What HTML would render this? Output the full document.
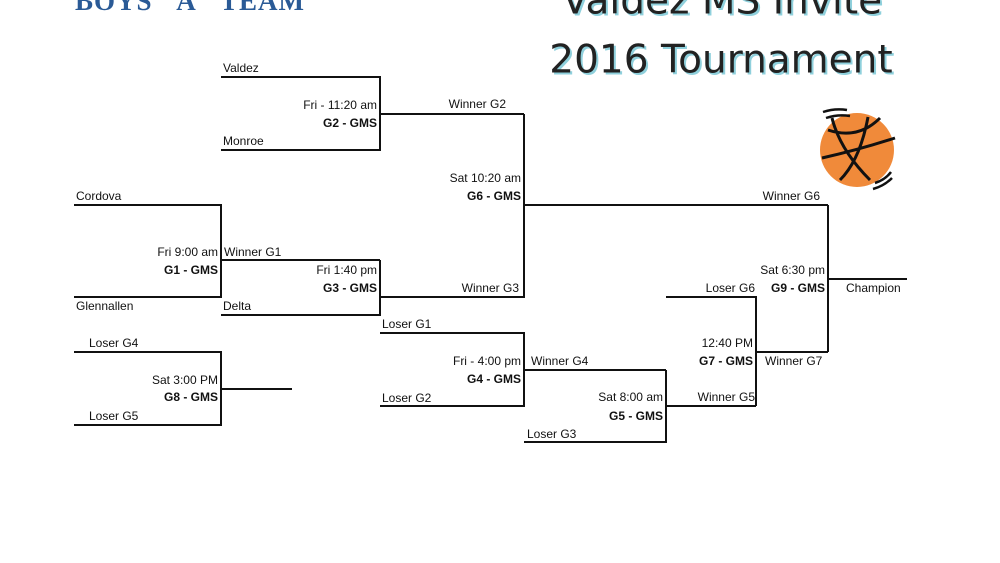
<!DOCTYPE html>
<html><head><meta charset="utf-8"><style>
html,body{margin:0;padding:0;background:#fff;width:1000px;height:563px;overflow:hidden}
svg text{font-family:"Liberation Sans",sans-serif;font-size:12px;fill:#111;dominant-baseline:central}
</style></head><body>
<svg width="1000" height="563" viewBox="0 0 1000 563" xmlns="http://www.w3.org/2000/svg">
<text x="190" y="1" text-anchor="middle" style="font-family:'Liberation Serif',serif;font-size:27px;font-weight:bold;fill:#2a5a96;letter-spacing:1px">BOYS "A"   TEAM</text>
<g style="font-size:39px;font-family:'DejaVu Sans',sans-serif">
<text x="724" y="3" text-anchor="middle" style="font-size:39px;font-family:'DejaVu Sans',sans-serif;fill:#8fd0dc">Valdez MS Invite</text>
<text x="722" y="1" text-anchor="middle" style="font-size:39px;font-family:'DejaVu Sans',sans-serif;fill:#222">Valdez MS Invite</text>
<text x="723" y="62" text-anchor="middle" style="font-size:39px;font-family:'DejaVu Sans',sans-serif;fill:#8fd0dc">2016 Tournament</text>
<text x="721" y="60" text-anchor="middle" style="font-size:39px;font-family:'DejaVu Sans',sans-serif;fill:#222">2016 Tournament</text>
</g>
<g>
<circle cx="857" cy="150" r="37" fill="#f08a3a"/>
<path d="M828 130 Q858 140 880 118 M822 158 Q858 150 895 138 M840 180 Q860 160 868 117 M832 118 Q840 150 870 180" stroke="#111" stroke-width="3" fill="none"/>
<path d="M823 112 Q835 108 847 110 M826 118 Q838 114 850 116 M875 183 Q885 180 891 172 M873 189 Q884 186 892 178" stroke="#111" stroke-width="2.5" fill="none"/>
</g>
<g stroke="#111" stroke-width="2" fill="none">
<polyline points="221,77 380,77 380,150 221,150"/>
<line x1="380" y1="114" x2="524" y2="114"/>
<polyline points="380,297 524,297 524,114"/>
<line x1="524" y1="205" x2="828" y2="205"/>
<polyline points="74,205 221,205 221,297 74,297"/>
<line x1="221" y1="260" x2="380" y2="260"/>
<polyline points="380,260 380,315 221,315"/>
<polyline points="380,333 524,333 524,406 380,406"/>
<line x1="524" y1="370" x2="666" y2="370"/>
<polyline points="524,442 666,442 666,370"/>
<line x1="666" y1="406" x2="756" y2="406"/>
<polyline points="666,297 756,297 756,406"/>
<line x1="756" y1="352" x2="828" y2="352"/>
<line x1="828" y1="205" x2="828" y2="352"/>
<line x1="828" y1="279" x2="907" y2="279"/>
<polyline points="74,352 221,352 221,425 74,425"/>
<line x1="221" y1="389" x2="292" y2="389"/>
</g>
<g text-anchor="end">
<text x="377" y="105">Fri - 11:20 am</text><text x="377" y="123" font-weight="bold">G2 - GMS</text>
<text x="521" y="178">Sat 10:20 am</text><text x="521" y="196" font-weight="bold">G6 - GMS</text>
<text x="218" y="252">Fri 9:00 am</text><text x="218" y="270" font-weight="bold">G1 - GMS</text>
<text x="377" y="270">Fri 1:40 pm</text><text x="377" y="288" font-weight="bold">G3 - GMS</text>
<text x="521" y="361">Fri - 4:00 pm</text><text x="521" y="379" font-weight="bold">G4 - GMS</text>
<text x="218" y="380">Sat 3:00 PM</text><text x="218" y="397" font-weight="bold">G8 - GMS</text>
<text x="663" y="397">Sat 8:00 am</text><text x="663" y="416" font-weight="bold">G5 - GMS</text>
<text x="753" y="343">12:40 PM</text><text x="753" y="361" font-weight="bold">G7 - GMS</text>
<text x="825" y="270">Sat 6:30 pm</text><text x="825" y="288" font-weight="bold">G9 - GMS</text>
<text x="506" y="104">Winner G2</text>
<text x="519" y="288">Winner G3</text>
<text x="820" y="196">Winner G6</text>
<text x="755" y="288">Loser G6</text>
<text x="755" y="397">Winner G5</text>
</g>
<text x="223" y="68">Valdez</text>
<text x="223" y="141">Monroe</text>
<text x="76" y="196">Cordova</text>
<text x="76" y="306">Glennallen</text>
<text x="224" y="252">Winner G1</text>
<text x="223" y="306">Delta</text>
<text x="382" y="324">Loser G1</text>
<text x="382" y="398">Loser G2</text>
<text x="531" y="361">Winner G4</text>
<text x="527" y="434">Loser G3</text>
<text x="765" y="361">Winner G7</text>
<text x="846" y="288">Champion</text>
<text x="89" y="343">Loser G4</text>
<text x="89" y="416">Loser G5</text>
</svg>
</body></html>
